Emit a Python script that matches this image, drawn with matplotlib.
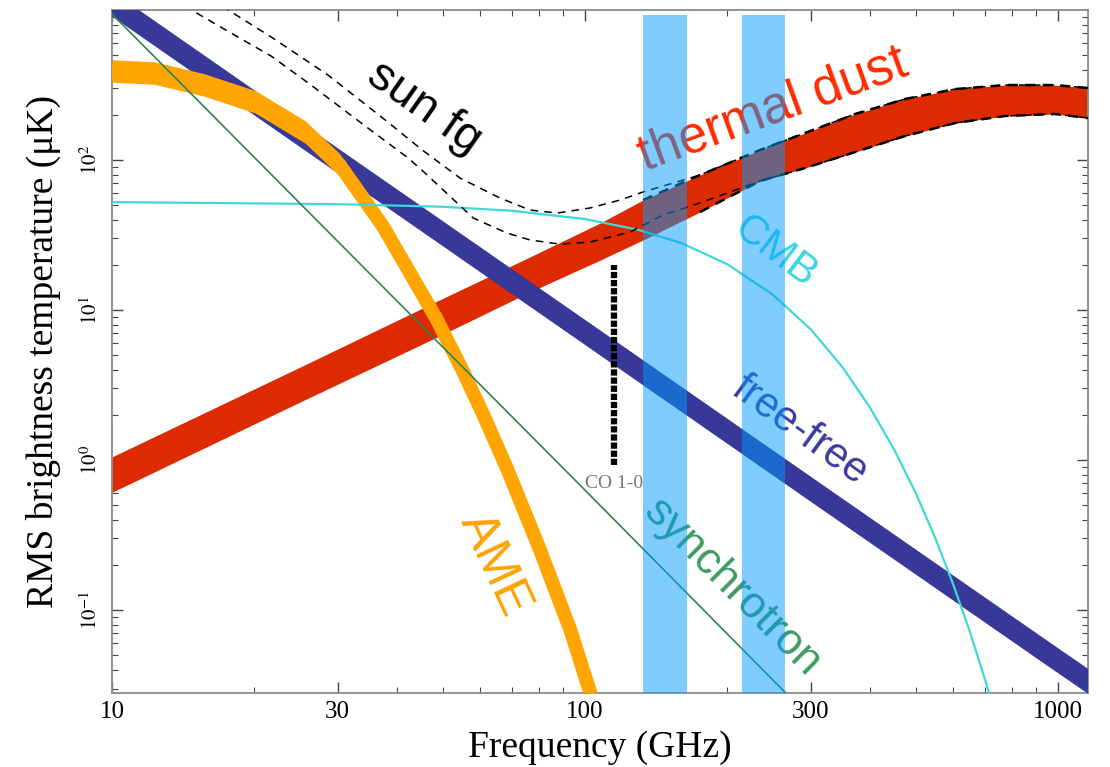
import numpy as np
import matplotlib
matplotlib.use("Agg")
import matplotlib.pyplot as plt
from matplotlib.ticker import FixedLocator, FuncFormatter, LogLocator, NullFormatter

plt.rcParams["mathtext.fontset"] = "stix"

# ---- data: frequency (GHz) and RMS brightness temperature (uK) ----
ff_freq = [10, 30, 100, 300, 1000, 1200]
ff_rms = [1100, 99, 7.1, 0.64, 0.046, 0.031]

sync_freq = [10, 30, 100, 300]
sync_rms = [940, 28.7, 0.63, 0.019]

ame_freq = [10, 12.3, 15.7, 20.1, 25.6, 30.3, 37.4, 48.4, 55.2, 60.8, 68.4, 80.3,
            93.0, 101.4, 110]
ame_rms = [392, 380, 316, 244, 154, 92.7, 36.1, 8.87, 3.91, 2.04, 0.879, 0.252,
           0.0745, 0.0316, 0.0141]

cmb_freq = [10, 30, 50, 70, 100, 130, 160, 200, 250, 300, 350, 400, 450, 500,
            550, 600, 650, 700, 750, 800]
cmb_rms = [52.4, 50.8, 48.8, 45.9, 40.4, 34.2, 27.9, 20.2, 12.6, 7.44, 4.17, 2.25,
           1.18, 0.605, 0.303, 0.149, 0.0727, 0.0349, 0.0166, 0.0078]

dust_freq = [10, 25.0, 48.2, 76.5, 107.6, 132.6, 175, 234.4, 291.8, 372.3, 474.9,
             605.7, 772.6, 985.5, 1157]
dust_hi = [1.05, 4.17, 11.3, 22.6, 38.0, 54.1, 79.4, 116.6, 151.4, 202.6, 255,
           297, 316, 316, 302]
dust_lo = [0.61, 2.44, 6.51, 13.2, 21.5, 29.3, 45.0, 72.4, 88.4, 113, 144.5,
           176.4, 196.5, 202.6, 190.5]

# sum of foregrounds for the two sky fractions
sum_hi_freq = [15, 17.6, 21.7, 28.6, 37.8, 45.2, 54.4, 66.1, 76.5, 87.3, 102.5, 118.6,
               132.6, 175, 234.4, 291.8, 372.3, 474.9, 605.7, 772.6, 985.5, 1157]
sum_hi = [1370, 1000, 661, 369, 185, 117, 75.9, 55.8, 46.4, 44.3, 47.9, 54.1,
          61.2, 79.4, 116.6, 151.4, 202.6, 255, 297, 316, 316, 302]
sum_lo_freq = [13, 17.85, 21.7, 26.0, 34.3, 42.3, 45.9, 58.0, 68.4, 76.5, 88.5, 102.5,
               124.5, 146.2, 175, 234.4, 291.8, 372.3, 474.9, 605.7, 772.6, 985.5, 1157]
sum_lo = [1256, 702, 493, 326, 168.5, 103, 81.9, 41.1, 32.6, 29.3, 27.5, 28.4,
          33.1, 43.0, 51.7, 72.4, 88.4, 113, 144.5, 176.4, 196.5, 202.6, 190.5]

co_freq = 115.27
co_range = [0.93, 20]

bands = [(132.6, 164.3), (214.7, 264.8)]

xticks = [10, 30, 100, 300, 1000]
yticks = [0.1, 1, 10, 100]
xlim = (10, 1157)
ylim = (0.028, 1000)

# ---- figure ----
W, H = 1110, 767
fig = plt.figure(figsize=(W / 100, H / 100), dpi=100)
ax = fig.add_axes([112 / W, 1 - 693 / H, 976 / W, 683 / H])
ax.set_xscale("log")
ax.set_yscale("log")
ax.set_xlim(*xlim)
ax.set_ylim(*ylim)

# thermal dust band
ax.fill_between(dust_freq, dust_lo, dust_hi, color="#DD2A00", lw=0, zorder=2)

# free-free
ax.plot(ff_freq, ff_rms, color="#383898", lw=14.8, solid_capstyle="butt", zorder=3)

# AME band
ame_half = 10 ** 0.075
ax.fill_between(ame_freq, np.array(ame_rms) / ame_half, np.array(ame_rms) * ame_half,
                color="#FFA500", lw=0, zorder=4)
ax.plot(ame_freq, ame_rms, color="#FFA500", lw=10, solid_capstyle="butt",
        solid_joinstyle="round", zorder=4)

# CMB
ax.plot(cmb_freq, cmb_rms, color="#3FD8D4", lw=1.6, zorder=5)

# synchrotron
ax.plot(sync_freq, sync_rms, color="#2B8650", lw=1.2, zorder=6)

# sums of foregrounds and dust band edges
ax.plot(sum_hi_freq, sum_hi, color="black", lw=1.1, ls=(0, (5, 4)), zorder=7)
ax.plot(sum_lo_freq, sum_lo, color="black", lw=1.1, ls=(0, (5, 4)), zorder=7)
ax.plot(dust_freq[5:], dust_hi[5:], color="black", lw=1.8, ls=(0, (4, 3)), zorder=7)
ax.plot(dust_freq[6:], dust_lo[6:], color="black", lw=1.8, ls=(0, (4, 3)), zorder=7)

# CO 1-0 line
ax.plot([co_freq, co_freq], co_range, color="black", lw=4.5, ls=(0, (1.0, 0.3)),
        solid_capstyle="butt", zorder=8)
ax.text(co_freq, co_range[0] * 0.86, "CO 1-0", ha="center", va="top",
        family="Liberation Serif", fontsize=14, color="#777777", zorder=8)

# observing bands
for lo, hi in bands:
    ax.axvspan(lo, hi, ymin=0, ymax=1 - 5 / 683, color="#009BFF", alpha=0.5,
               lw=0, zorder=20)

# ---- axes styling ----
for sp in ax.spines.values():
    sp.set_color("#8a8a8a")
    sp.set_linewidth(1.3)
ax.tick_params(which="both", direction="in", top=True, right=True, color="#444444")
ax.tick_params(which="major", length=8, width=1)
ax.tick_params(which="minor", length=4, width=0.8)
ax.xaxis.set_major_locator(FixedLocator(xticks))
ax.xaxis.set_major_formatter(FuncFormatter(lambda v, p: f"{v:g}"))
ax.xaxis.set_minor_locator(LogLocator(base=10, subs=np.arange(2, 10)))
ax.xaxis.set_minor_formatter(NullFormatter())
ax.yaxis.set_major_locator(FixedLocator(yticks))
ax.yaxis.set_major_formatter(FuncFormatter(lambda v, p: r"$10^{%d}$" % round(np.log10(v))))
ax.yaxis.set_minor_locator(LogLocator(base=10, subs=np.arange(2, 10)))
ax.yaxis.set_minor_formatter(NullFormatter())

for lab in ax.get_xticklabels():
    lab.set_family("Liberation Serif")
    lab.set_fontsize(18)
ax.tick_params(axis="x", pad=6)
ax.tick_params(axis="y", pad=8, labelrotation=90)
for lab in ax.get_yticklabels():
    lab.set_fontsize(15)
    lab.set_va("center")

ax.set_xlabel("Frequency (GHz)", family="Liberation Serif", fontsize=27)
ax.xaxis.set_label_coords(0.5, -0.055)
ax.set_ylabel("RMS brightness temperature (μK)", family="Liberation Serif", fontsize=27)
ax.yaxis.set_label_coords(-0.052, 0.5)

# ---- component labels ----
labels = [
    ("sun fg", 424, 108, -35, 34, "black"),
    ("thermal dust", 773, 110, 20, 37, "#FF2A00"),
    ("CMB", 775, 252, -37, 30, "#3DD5E0"),
    ("free-free", 800, 430, -36, 30, "#3A3A9E"),
    ("AME", 495, 565, -65, 36, "#FFA200"),
    ("synchrotron", 732, 588, -45, 32, "#3E9A60"),
]
for s, x, y, rot, fs, c in labels:
    ax.text(x / W, 1 - y / H, s, transform=fig.transFigure, rotation=rot,
            rotation_mode="anchor", ha="center", va="center", fontsize=fs,
            color=c, family="Liberation Sans", zorder=10)

fig.savefig("out.png", dpi=100)
